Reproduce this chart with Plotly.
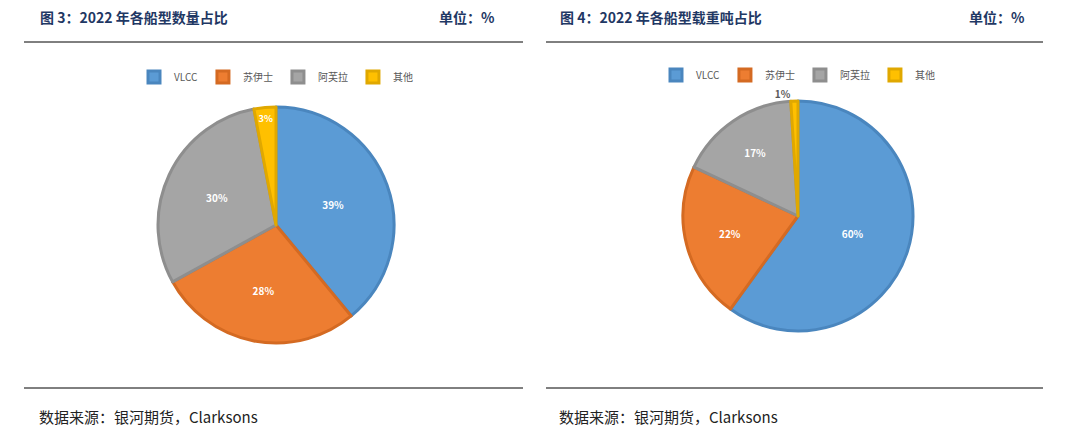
import plotly.graph_objects as go

labels = ["VLCC", "苏伊士", "阿芙拉", "其他"]
count_share = [39, 28, 30, 3]
dwt_share = [60, 22, 17, 1]

fills = ["#5B9BD5", "#ED7D31", "#A5A5A5", "#FFC000"]
edges = ["#4A86BE", "#D46A22", "#8E8E8E", "#E0A800"]
OFF = 8
W, H = 1079 - 2*OFF, 441 - 2*OFF

def px(x): return (x - OFF) / W
def py(y): return 1 - (y - OFF) / H

def pie(lbls, vals, dom, leg, pos):
    return go.Pie(labels=lbls, values=vals, sort=False, direction="clockwise", rotation=0,
                  domain=dom, marker=dict(colors=fills, line=dict(color=edges, width=3)),
                  texttemplate="<b>%{value}%</b>", textposition=pos,
                  insidetextfont=dict(color="white", size=10, family="Noto Sans CJK SC"),
                  outsidetextfont=dict(color="#595959", size=10, family="Noto Sans CJK SC"),
                  insidetextorientation="horizontal", legend=leg, hoverinfo="label+value")

fig = go.Figure([
    pie(labels, count_share, dict(x=[px(158), px(394)], y=[py(343), py(107)]), "legend", "inside"),
    pie([l + "\u200b" for l in labels], dwt_share, dict(x=[px(683), px(913)], y=[py(331), py(101)]),
        "legend2", ["inside", "inside", "inside", "outside"]),
])

legfont = dict(size=10, color="#595959", family="Noto Sans CJK SC")
fig.update_layout(
    width=W, height=H, margin=dict(l=0, r=0, t=0, b=0),
    paper_bgcolor="white", plot_bgcolor="white",
    legend=dict(orientation="h", x=px(276), xanchor="center", y=py(77), yanchor="middle",
                font=legfont, itemwidth=30, tracegroupgap=0),
    legend2=dict(orientation="h", x=px(798), xanchor="center", y=py(75), yanchor="middle",
                 font=legfont, itemwidth=30, tracegroupgap=0),
)

shapes = []
for x0, x1 in [(24, 523), (546, 1043)]:
    for yy in [42, 388]:
        shapes.append(dict(type="line", xref="paper", yref="paper", x0=px(x0), x1=px(x1),
                           y0=py(yy), y1=py(yy), line=dict(color="#000000", width=1)))
fig.update_layout(shapes=shapes)

tfont = dict(size=14, color="#1F3864", family="Noto Sans CJK SC")
sfont = dict(size=15, color="#222", family="Noto Sans CJK SC")
anns = [
    ("<b>图 3：2022 年各船型数量占比</b>", 38, 17, "left", tfont),
    ("<b>单位：%</b>", 497, 17, "right", tfont),
    ("<b>图 4：2022 年各船型载重吨占比</b>", 558, 17, "left", tfont),
    ("<b>单位：%</b>", 1027, 17, "right", tfont),
    ("数据来源：银河期货，Clarksons", 37, 416, "left", sfont),
    ("数据来源：银河期货，Clarksons", 557, 416, "left", sfont),
]
fig.update_layout(annotations=[dict(text=t, x=px(x), y=py(y), xref="paper", yref="paper",
                                    xanchor=a, yanchor="middle", showarrow=False, font=f)
                               for t, x, y, a, f in anns])
fig.write_html("out.html")
